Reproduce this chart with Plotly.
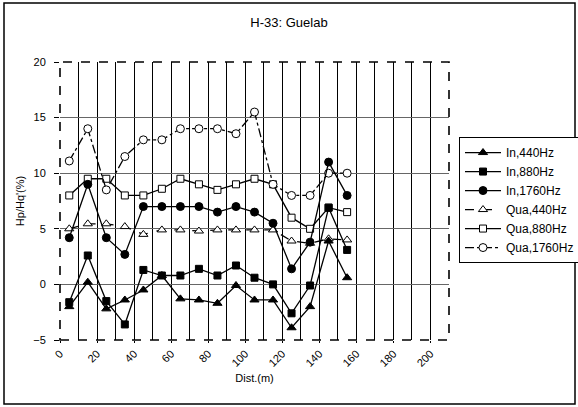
import plotly.graph_objects as go

dist = [5, 15, 25, 35, 45, 55, 65, 75, 85, 95, 105, 115, 125, 135, 145, 155]
in_440 = [-2.0, 0.2, -2.2, -1.4, -0.5, 0.8, -1.3, -1.4, -1.7, -0.1, -1.4, -1.4, -3.9, -2.0, 3.9, 0.6]
in_880 = [-1.6, 2.6, -1.5, -3.6, 1.3, 0.8, 0.8, 1.4, 0.8, 1.7, 0.6, 0.0, -2.6, -0.1, 6.9, 3.1]
in_1760 = [4.2, 9.0, 4.2, 2.7, 7.0, 7.0, 7.0, 7.0, 6.5, 7.0, 6.5, 5.5, 1.4, 3.8, 11.0, 8.0]
qua_440 = [5.0, 5.45, 5.45, 5.2, 4.5, 4.9, 4.9, 4.8, 4.9, 4.9, 4.9, 4.9, 3.9, 3.7, 4.1, 4.0]
qua_880 = [8.0, 9.5, 9.5, 8.0, 8.0, 8.6, 9.5, 9.0, 8.5, 9.0, 9.5, 9.0, 6.0, 5.0, 6.9, 6.5]
qua_1760 = [11.1, 14.0, 8.5, 11.5, 13.0, 13.0, 14.0, 14.0, 14.0, 13.55, 15.5, 9.0, 8.0, 8.0, 10.0, 10.0]

x_ticks = [0, 20, 40, 60, 80, 100, 120, 140, 160, 180, 200]
y_ticks = [-5, 0, 5, 10, 15, 20]

FONT = "Liberation Sans, Arial, sans-serif"

series = [
    # name, values, symbol, fill, dash, legend rank, size
    ("Qua,440Hz", qua_440, "triangle-up", "white", "dash", 4, 8),
    ("Qua,880Hz", qua_880, "square", "white", "solid", 5, 7),
    ("Qua,1760Hz", qua_1760, "circle", "white", "dashdot", 6, 8),
    ("In,440Hz", in_440, "triangle-up", "black", "solid", 1, 8),
    ("In,880Hz", in_880, "square", "black", "solid", 2, 7),
    ("In,1760Hz", in_1760, "circle", "black", "solid", 3, 8),
]

fig = go.Figure()
for name, vals, sym, fill, dash, rank, size in series:
    fig.add_trace(go.Scatter(
        x=dist, y=vals, name=name, mode="lines+markers",
        line=dict(color="black", width=1.3, dash=dash),
        marker=dict(symbol=sym, size=size, color=fill,
                    line=dict(color="black", width=1)),
        legendrank=rank,
    ))

fig.update_layout(
    width=578, height=407,
    margin=dict(l=60, r=129, t=62, b=67, autoexpand=False),
    paper_bgcolor="white", plot_bgcolor="white",
    font=dict(family=FONT, size=11, color="black"),
    title=dict(text="H-33: Guelab", x=0.5, xref="container", xanchor="center",
               y=1 - 22 / 407, yref="container", yanchor="middle",
               font=dict(family=FONT, size=13, color="black")),
    showlegend=True,
    legend=dict(x=459 / 578, xref="container", y=0.73, xanchor="left", yanchor="top",
                bordercolor="black", borderwidth=1, bgcolor="white",
                font=dict(family=FONT, size=12), itemwidth=36,
                tracegroupgap=0, traceorder="normal"),
    xaxis=dict(range=[0, 210], tickvals=x_ticks, tickangle=-45,
               showgrid=True, gridcolor="black", gridwidth=1,
               minor=dict(dtick=10, tick0=0, showgrid=True, gridcolor="black", gridwidth=1),
               ticks="outside", ticklen=2, tickcolor="black",
               zeroline=False, showline=False, automargin=False,
               title=dict(text="Dist.(m)", font=dict(family=FONT, size=11), standoff=6)),
    yaxis=dict(range=[-5, 20], tickvals=y_ticks,
               showgrid=True, gridcolor="#666666", gridwidth=1.3,
               ticks="outside", ticklen=5, tickcolor="black", ticklabelstandoff=6,
               zeroline=False, showline=False, automargin=False,
               title=dict(text="Hp/Hq'(%)", font=dict(family=FONT, size=11), standoff=6)),
)

# dashed plot-area border
fig.add_shape(type="rect", xref="paper", yref="paper", x0=0, x1=1, y0=0, y1=1,
              line=dict(color="black", width=1.6, dash="dash"), layer="above")
# outer chart border
fig.add_shape(type="rect", xref="paper", yref="paper",
              x0=(4 - 60) / 389, x1=(575 - 60) / 389,
              y0=(340 - 404) / 278, y1=(340 - 3) / 278,
              line=dict(color="black", width=1.5), layer="above")

fig.write_html("out.html", config={"displayModeBar": False},
               post_script="document.body.style.margin='0';")
